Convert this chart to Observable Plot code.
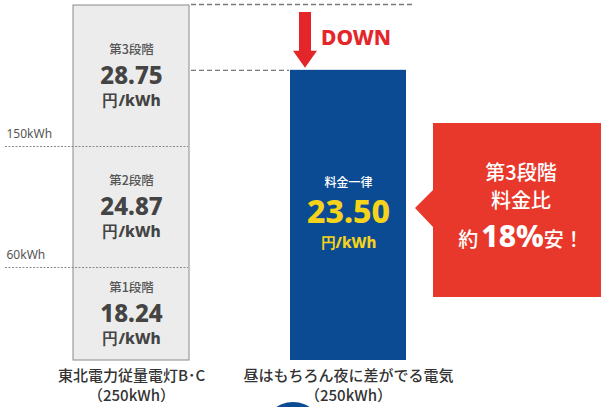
<!DOCTYPE html>
<html><head><meta charset="utf-8">
<script src="https://cdn.jsdelivr.net/npm/d3@7"></script>
<script src="https://cdn.jsdelivr.net/npm/@observablehq/plot@0.6"></script>
<style>body{margin:0;background:#fff;overflow:hidden}</style>
</head><body><div id="chart"></div>
<script>
// ---- data ----
const categories = ["東北電力従量電灯B･C\n（250kWh）", "昼はもちろん夜に差がでる電気\n（250kWh）"];
const tierNames = ["第1段階", "第2段階", "第3段階"];
const tierPrices = [18.24, 24.87, 28.75];
const tierBottoms = [0, 7.53, 17.33];   // displayed segment extents (price-height units)
const tierTops = [7.53, 17.33, 28.75];
const boundaryLabels = ["60kWh", "150kWh"];
const boundaryValues = [7.53, 17.33];
const flatName = "料金一律";
const flatPrice = 23.50;
const flatLabelLevel = 14.33;
const unitLabel = "円/kWh";
const downLabel = "DOWN";
const calloutLines = ["第3段階", "料金比"];
const calloutPre = "約", calloutPct = "18%", calloutPost = "安！";

const tiers = tierNames.map((n, i) => ({
  cat: categories[0], name: n, price: tierPrices[i].toFixed(2),
  y1: tierBottoms[i], y2: tierTops[i], mid: (tierBottoms[i] + tierTops[i]) / 2
}));
const flat = [{cat: categories[1], v: flatPrice, price: flatPrice.toFixed(2), lv: flatLabelLevel}];
const bounds = boundaryValues.map((v, i) => ({v, label: boundaryLabels[i]}));

const JP = "'Noto Sans CJK JP', sans-serif";
const NUM = "'Noto Sans', 'DejaVu Sans', sans-serif";
const RED = "#e4262b", BLUE = "#0b4b93", YEL = "#f5d31a";

function decor(index, {x, y}, values, dims) {
  const g = d3.create("svg:g");
  const xr = x(categories[1]);
  const bw = x.bandwidth();
  const ytop = y(flatPrice);
  // DOWN arrow
  const cx = xr + 15;
  g.append("polygon")
    .attr("points", [[cx-6,12],[cx+6,12],[cx+6,ytop-19],[cx+12,ytop-19],[cx,ytop-2],[cx-12,ytop-19],[cx-6,ytop-19]].map(p=>p.join(",")).join(" "))
    .attr("fill", RED);
  g.append("text").text(downLabel)
    .attr("x", cx + 16).attr("y", 45).attr("text-anchor", "start")
    .attr("font-family", NUM).attr("font-weight", 800).attr("font-size", 21)
    .attr("fill", RED);
  // callout
  const L = xr + bw + 27, R = dims.width, T = 123, B = 297, tipX = L - 18, tipY = 208;
  g.append("path")
    .attr("d", `M${tipX},${tipY}L${L},${tipY-18}L${L},${T}L${R},${T}L${R},${B}L${L},${B}L${L},${tipY+19}Z`)
    .attr("fill", "#e8382b");
  const mx = (L + R) / 2 + 4;
  calloutLines.forEach((t, i) => {
    g.append("text").text(t).attr("x", mx).attr("y", 180 + i * 28)
      .attr("text-anchor", "middle").attr("font-family", JP).attr("font-size", 20)
      .attr("fill", "#fff").attr("font-weight", 500);
  });
  const t3 = g.append("text").attr("x", mx).attr("y", 247).attr("text-anchor", "middle").attr("fill", "#fff");
  t3.append("tspan").text(calloutPre).attr("font-family", JP).attr("font-size", 20).attr("font-weight", 500);
  t3.append("tspan").text(calloutPct).attr("font-family", NUM).attr("font-size", 30).attr("font-weight", 800).attr("dx", 3);
  t3.append("tspan").text(calloutPost).attr("font-family", JP).attr("font-size", 20).attr("font-weight", 500);
  // peeking circle
  g.append("circle").attr("cx", xr + 3).attr("cy", 432).attr("r", 30).attr("fill", BLUE);
  return g.node();
}

const chart = Plot.plot({
  width: 601, height: 407,
  marginTop: 5, marginBottom: 47, marginLeft: 0, marginRight: 122,
  style: {fontFamily: JP, background: "#fff"},
  x: {type: "band", domain: categories, paddingInner: 0.465, paddingOuter: 0.336, axis: null},
  y: {domain: [0, tierTops[2]], axis: null},
  marks: [
    Plot.barY(tiers, {x: "cat", y1: "y1", y2: "y2", fill: "#ececec"}),
    Plot.barY([tiers[2]], {x: "cat", y1: 0, y2: "y2", fill: "none", stroke: "#8a8a8a", strokeWidth: 1}),
    Plot.ruleY(bounds, {y: "v", stroke: "#8a8a8a", strokeDasharray: "2,1.5", insetLeft: 5, insetRight: 291}),
    Plot.text(bounds, {y: "v", text: "label", frameAnchor: "left", textAnchor: "start", dx: 6, dy: -12, fontSize: 12, fill: "#555", fontFamily: NUM}),
    Plot.barY(flat, {x: "cat", y: "v", fill: BLUE}),
    Plot.ruleY([tierTops[2]], {stroke: "#777", strokeDasharray: "5,3", strokeWidth: 1.3, insetLeft: 191, insetRight: 66, dy: -1}),
    Plot.ruleY([flatPrice], {stroke: "#777", strokeDasharray: "5,3", strokeWidth: 1.3, insetLeft: 191, insetRight: 190}),
    Plot.text(tiers, {x: "cat", y: "mid", text: "name", dy: -26, fontSize: 12.5, fill: "#555", fontWeight: 500}),
    Plot.text(tiers, {x: "cat", y: "mid", text: "price", dy: 0, fontSize: 24, fill: "#444", fontWeight: 800, fontFamily: NUM}),
    Plot.text(tiers, {x: "cat", y: "mid", text: () => unitLabel, dy: 25, fontSize: 15.5, fill: "#444", fontWeight: 800, fontFamily: NUM}),
    Plot.text(flat, {x: "cat", y: "lv", text: () => flatName, dy: 0, fontSize: 12, fill: "#fff", fontWeight: 500}),
    Plot.text(flat, {x: "cat", y: "lv", text: "price", dy: 29, fontSize: 32, fill: YEL, fontWeight: 800, fontFamily: NUM}),
    Plot.text(flat, {x: "cat", y: "lv", text: () => unitLabel, dy: 60, fontSize: 15, fill: YEL, fontWeight: 800, fontFamily: NUM}),
    Plot.axisX({tickSize: 0, tickPadding: 7, fontSize: 15, lineHeight: 1.3, fill: "#333", label: null, fontWeight: 500}),
    decor
  ]
});
document.getElementById("chart").append(chart);
</script>
</body></html>
